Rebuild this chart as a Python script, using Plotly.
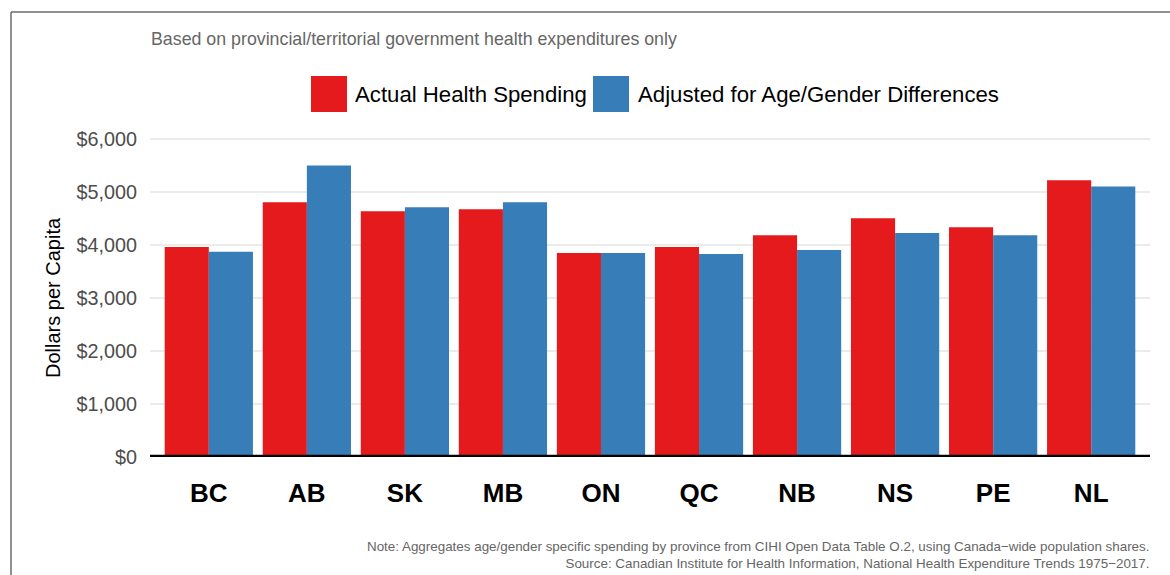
import plotly.graph_objects as go

# Per-capita provincial/territorial government health spending
provinces = ["BC", "AB", "SK", "MB", "ON", "QC", "NB", "NS", "PE", "NL"]
actual_spending = [3960, 4805, 4635, 4675, 3850, 3960, 4185, 4505, 4335, 5220]
adjusted_spending = [3870, 5500, 4710, 4805, 3850, 3830, 3905, 4225, 4185, 5105]
y_ticks = [0, 1000, 2000, 3000, 4000, 5000, 6000]
y_tick_labels = ["$0", "$1,000", "$2,000", "$3,000", "$4,000", "$5,000", "$6,000"]

series_names = ["Actual Health Spending", "Adjusted for Age/Gender Differences"]
series_colors = ["#E41A1C", "#377EB8"]

subtitle = "Based on provincial/territorial government health expenditures only"
note = ("Note: Aggregates age/gender specific spending by province from CIHI Open Data Table O.2, "
        "using Canada\u2212wide population shares.<br>"
        "Source: Canadian Institute for Health Information, National Health Expenditure Trends 1975\u22122017.")

W, H = 1170, 575
M_L, M_R, M_T, M_B = 150, 20, 131, 118
PLOT_W = W - M_L - M_R
PLOT_H = H - M_T - M_B
FONT = "Arial, Liberation Sans, Helvetica, sans-serif"


def px_x(x):
    """Pixel column -> paper x."""
    return (x - M_L) / PLOT_W


def px_y(y):
    """Pixel row -> paper y."""
    return (H - M_B - y) / PLOT_H


fig = go.Figure()
for name, values, color in zip(series_names, [actual_spending, adjusted_spending], series_colors):
    fig.add_trace(go.Bar(
        x=provinces, y=values, name=name,
        marker=dict(color=color, line=dict(width=0)),
        showlegend=False, hoverinfo="x+y+name",
    ))

shapes = [
    # zero baseline
    dict(type="line", xref="paper", yref="y", x0=0, x1=1, y0=0, y1=0,
         line=dict(color="black", width=4.5), layer="above"),
    # outer frame (left and top edges)
    dict(type="line", xref="paper", yref="paper", x0=px_x(11), x1=px_x(11),
         y0=px_y(12), y1=px_y(600), line=dict(color="#6b6b6b", width=1.5)),
    dict(type="line", xref="paper", yref="paper", x0=px_x(11), x1=px_x(1180),
         y0=px_y(12), y1=px_y(12), line=dict(color="#6b6b6b", width=1.5)),
]

annotations = [
    dict(text=subtitle, xref="paper", yref="paper", x=px_x(149), y=px_y(39),
         xanchor="left", yanchor="middle", showarrow=False,
         font=dict(family=FONT, size=17.8, color="#666666")),
    dict(text=note, xref="paper", yref="paper", x=px_x(1151), y=px_y(555),
         xanchor="right", yanchor="middle", align="right", showarrow=False,
         font=dict(family=FONT, size=13.4, color="#666666")),
    # y-axis title
    dict(text="Dollars per Capita", xref="paper", yref="paper", x=px_x(53), y=px_y(298),
         xanchor="center", yanchor="middle", textangle=-90, showarrow=False,
         font=dict(family=FONT, size=20, color="black")),
]

# legend keys and labels
legend_items = [(311, 353), (593, 636)]
for (key_x, text_x), name, color in zip(legend_items, series_names, series_colors):
    shapes.append(dict(type="rect", xref="paper", yref="paper",
                       x0=px_x(key_x), x1=px_x(key_x + 36), y0=px_y(76), y1=px_y(112),
                       fillcolor=color, line=dict(width=0)))
    annotations.append(dict(text=name, xref="paper", yref="paper", x=px_x(text_x), y=px_y(94),
                            xanchor="left", yanchor="middle", showarrow=False,
                            font=dict(family=FONT, size=22.2, color="black")))

fig.update_layout(
    width=W, height=H,
    margin=dict(l=M_L, r=M_R, t=M_T, b=M_B, pad=0),
    paper_bgcolor="white", plot_bgcolor="white",
    barmode="group", bargap=0.1, bargroupgap=0,
    font=dict(family=FONT),
    shapes=shapes, annotations=annotations,
    xaxis=dict(
        type="category", range=[-0.6, 9.6], showgrid=False, zeroline=False,
        showline=False, ticks="",
        tickfont=dict(family=FONT, size=26, color="black", weight="bold"),
        ticklabelstandoff=18,
    ),
    yaxis=dict(
        range=[0, 6150], tickvals=y_ticks, ticktext=y_tick_labels,
        showgrid=True, gridcolor="#EBEBEB", gridwidth=2, zeroline=False,
        showline=False, ticks="",
        tickfont=dict(family=FONT, size=19.8, color="#4D4D4D"),
        ticklabelstandoff=12,
    ),
)

fig.write_html("out.html")
